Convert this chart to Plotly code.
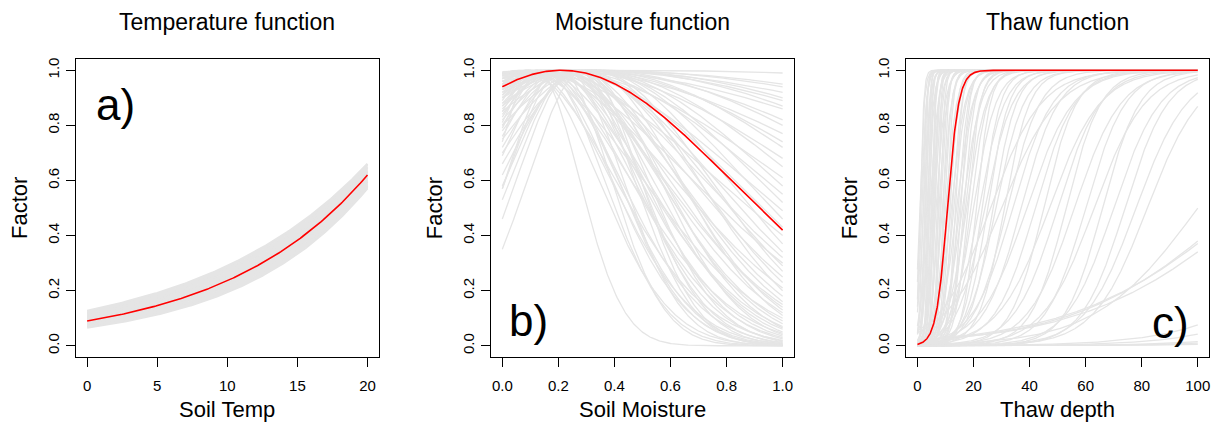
import numpy as np
import plotly.graph_objects as go

# ---------------- data ----------------
# a) Temperature function: exponential curves given by value at 0 and at 20 degC
temp_x_ticks = [0, 5, 10, 15, 20]
temp_red = [0.09, 0.62]
temp_gray_at0 = [0.066, 0.069, 0.072, 0.075, 0.079, 0.082, 0.085, 0.088, 0.091, 0.094,
                 0.098, 0.101, 0.104, 0.107, 0.110, 0.114, 0.117, 0.120, 0.124, 0.127]
temp_gray_at20 = [0.572, 0.576, 0.581, 0.586, 0.590, 0.595, 0.600, 0.604, 0.609, 0.613,
                  0.618, 0.623, 0.627, 0.632, 0.636, 0.641, 0.646, 0.651, 0.656, 0.661]

# b) Moisture function: bell curves (peak = 1) given by value at moisture 0 and at 1
moist_x_ticks = [0.0, 0.2, 0.4, 0.6, 0.8, 1.0]
moist_red = [0.94, 0.42]
moist_gray_at0 = [0.995, 0.99, 0.985, 0.99, 0.97, 0.98, 0.96, 0.99, 0.975, 0.95, 0.985, 0.96, 0.93,
                  0.97, 0.92, 0.98, 0.90, 0.95, 0.88, 0.97, 0.85, 0.93, 0.99, 0.80, 0.90, 0.96, 0.87, 0.75,
                  0.94, 0.82, 0.98, 0.70, 0.90, 0.86, 0.96, 0.78, 0.92, 0.66, 0.99, 0.88, 0.84, 0.95,
                  0.72, 0.90, 0.80, 0.97, 0.62, 0.87, 0.93, 0.76, 0.98, 0.83, 0.58, 0.91, 0.69, 0.95,
                  0.53, 0.85, 0.89, 0.79, 0.46, 0.94, 0.57, 0.74, 0.57, 0.35, 0.81, 0.99, 0.91]
moist_gray_at1 = [0.99, 0.95, 0.94, 0.92, 0.90, 0.89, 0.87, 0.86, 0.82, 0.80, 0.77, 0.74, 0.72,
                  0.68, 0.65, 0.61, 0.58, 0.55, 0.52, 0.49, 0.46, 0.43, 0.40, 0.37, 0.34, 0.32, 0.29, 0.27,
                  0.25, 0.23, 0.21, 0.20, 0.18, 0.16, 0.15, 0.13, 0.12, 0.11, 0.10, 0.09, 0.08, 0.07,
                  0.065, 0.06, 0.05, 0.045, 0.04, 0.035, 0.03, 0.025, 0.02, 0.018, 0.015, 0.012, 0.01, 0.008,
                  0.006, 0.005, 0.004, 0.003, 0.002, 0.0015, 0.001, 1e-7, 1.2e-4, 0.002, 0.0005, 0.3, 0.14]

# c) Thaw function: logistic curves given by midpoint depth and steepness
thaw_x_ticks = [0, 20, 40, 60, 80, 100]
thaw_red = [10.7, 0.495]
thaw_gray_mid = [0.8, 1.0, 1.2, 1.5, 2.0, 2.2, 2.5, 2.8, 3.0, 3.2, 3.5, 3.7, 4.0, 4.2, 4.5, 4.8,
                 5.0, 5.3, 5.5, 5.8, 6.0, 6.3, 6.6, 7.0, 7.3, 7.6, 8.0, 8.4, 8.8, 9.2, 9.6, 10.0, 10.5,
                 11.0, 11.5, 12.0, 12.5, 13.0, 13.5, 14.0, 14.5, 15.0, 15.5, 16.0, 16.5, 17.0, 17.5,
                 18.0, 19.0, 20.0, 21.0, 22.0, 23.0, 24.0, 25.0, 26.0, 27.0, 28.0, 30.0, 31.0, 32.0,
                 34.0, 37.0, 39.0, 42.0, 45.0, 47.0, 50.0, 53.0, 56.0, 60.0, 63.0, 66.0, 70.0, 74.0,
                 78.0, 82.0, 100.0, 114.0, 116.0, 120.0, 150.0, 160.0, 180.0, 200.0, 230.0]
thaw_gray_k = [1.2, 1.6, 1.0, 1.2, 1.5, 0.9, 2.0, 1.1, 1.6, 0.8, 1.3, 2.2, 1.0, 1.7, 0.7, 1.2,
               1.5, 0.9, 2.0, 1.1, 0.8, 1.4, 0.6, 1.0, 1.8, 0.7, 1.2, 0.9, 0.6, 1.1, 0.75, 0.5, 0.9,
               0.5, 0.7, 0.4, 0.6, 0.45, 0.8, 0.35, 0.55, 0.4, 0.65, 0.3, 0.5, 0.38, 0.28,
               0.45, 0.33, 0.25, 0.4, 0.22, 0.3, 0.2, 0.26, 0.11, 0.24, 0.2, 0.1, 0.22, 0.17,
               0.14, 0.15, 0.12, 0.14, 0.17, 0.11, 0.13, 0.16, 0.12, 0.14, 0.11, 0.15, 0.12, 0.13,
               0.11, 0.105, 0.055, 0.035, 0.033, 0.033, 0.05, 0.052, 0.052, 0.046, 0.04]

# ---------------- geometry (page pixels; body margin removed in post_script) ----------------
W, H = 1215, 422
FONT = "Liberation Sans, Arial, Helvetica, sans-serif"
GRAY = "#E5E5E5"
panels_px = [(76, 379), (491.5, 794.5), (907, 1210)]
top_px, bot_px = 57.5, 356.5


def px_x(p):
    return p / W


def px_y(p):
    return (H - p) / H


ydom = [px_y(bot_px), px_y(top_px)]


def join_curves(xs, ys_list):
    X, Y = [], []
    for ys in ys_list:
        X.extend(list(xs) + [None])
        Y.extend(list(ys) + [None])
    return X, Y


def expo(t, v0, v20):
    return v0 * (v20 / v0) ** (t / 20.0)


def bell(m, s0, s1):
    a = np.sqrt(-np.log(s0))
    b = np.sqrt(-np.log(s1))
    w = 1.0 / (a + b)
    opt = a * w
    return np.exp(-((m - opt) / w) ** 2)


def logistic(d, mid, k):
    return 1.0 / (1.0 + np.exp(-k * (d - mid)))


fig = go.Figure()

# panel a
tx = np.linspace(0, 20, 201)
X, Y = join_curves(tx, [expo(tx, a, b) for a, b in zip(temp_gray_at0, temp_gray_at20)])
fig.add_trace(go.Scatter(x=X, y=Y, mode="lines", line=dict(color=GRAY, width=2.2),
                         xaxis="x", yaxis="y", hoverinfo="skip"))
fig.add_trace(go.Scatter(x=tx, y=expo(tx, *temp_red), mode="lines",
                         line=dict(color="red", width=1.6), xaxis="x", yaxis="y"))

# panel b
mx = np.linspace(0, 1, 301)
X, Y = join_curves(mx, [bell(mx, a, b) for a, b in zip(moist_gray_at0, moist_gray_at1)])
fig.add_trace(go.Scatter(x=X, y=Y, mode="lines", line=dict(color=GRAY, width=1.3),
                         xaxis="x2", yaxis="y2", hoverinfo="skip"))
fig.add_trace(go.Scatter(x=mx, y=bell(mx, *moist_red), mode="lines",
                         line=dict(color="red", width=1.6), xaxis="x2", yaxis="y2"))

# panel c
dx = np.linspace(0, 100, 801)
X, Y = join_curves(dx, [logistic(dx, m, k) for m, k in zip(thaw_gray_mid, thaw_gray_k)])
fig.add_trace(go.Scatter(x=X, y=Y, mode="lines", line=dict(color=GRAY, width=1.3),
                         xaxis="x3", yaxis="y3", hoverinfo="skip"))
fig.add_trace(go.Scatter(x=dx, y=logistic(dx, *thaw_red), mode="lines",
                         line=dict(color="red", width=1.6), xaxis="x3", yaxis="y3"))

common = dict(showline=True, linecolor="black", linewidth=1, mirror=True,
              ticks="outside", ticklen=9, tickwidth=1, tickcolor="black",
              showgrid=False, zeroline=False,
              tickfont=dict(family=FONT, size=15, color="black"))

x_specs = [(temp_x_ticks, [str(v) for v in temp_x_ticks], [-0.8, 20.8]),
           (moist_x_ticks, ["%.1f" % v for v in moist_x_ticks], [-0.04, 1.04]),
           (thaw_x_ticks, [str(v) for v in thaw_x_ticks], [-4, 104])]
y_ticks = [0.0, 0.2, 0.4, 0.6, 0.8, 1.0]

layout = dict(width=W, height=H, margin=dict(l=0, r=0, t=0, b=0),
              paper_bgcolor="white", plot_bgcolor="white", showlegend=False)
for i, ((l, r), (tv, tt, rng)) in enumerate(zip(panels_px, x_specs)):
    sfx = "" if i == 0 else str(i + 1)
    layout["xaxis" + sfx] = dict(common, domain=[px_x(l), px_x(r)], range=rng,
                                 tickvals=tv, ticktext=tt, anchor="y" + sfx,
                                 ticklabelstandoff=6)
    layout["yaxis" + sfx] = dict(common, domain=ydom, range=[-0.04, 1.04],
                                 tickvals=y_ticks, ticktext=["%.1f" % v for v in y_ticks],
                                 tickangle=-90, anchor="x" + sfx, ticklabelstandoff=1)
fig.update_layout(**layout)

titles = ["Temperature function", "Moisture function", "Thaw function"]
xlabels = ["Soil Temp", "Soil Moisture", "Thaw depth"]
letters = ["a)", "b)", "c)"]
ann = []
for i, (l, r) in enumerate(panels_px):
    cx = (l + r) / 2
    ann.append(dict(x=px_x(cx), y=px_y(20), xref="paper", yref="paper", text=titles[i],
                    showarrow=False, xanchor="center", yanchor="middle",
                    font=dict(family=FONT, size=23, color="black")))
    ann.append(dict(x=px_x(cx), y=px_y(409), xref="paper", yref="paper", text=xlabels[i],
                    showarrow=False, xanchor="center", yanchor="middle",
                    font=dict(family=FONT, size=22, color="black")))
    ann.append(dict(x=px_x(l - 57), y=px_y((top_px + bot_px) / 2), xref="paper", yref="paper",
                    text="Factor", textangle=-90, showarrow=False,
                    xanchor="center", yanchor="middle",
                    font=dict(family=FONT, size=22, color="black")))
ann.append(dict(x=px_x(94), y=px_y(103), xref="paper", yref="paper", text=letters[0],
                showarrow=False, xanchor="left", yanchor="middle",
                font=dict(family=FONT, size=44, color="black")))
ann.append(dict(x=px_x(507), y=px_y(320.5), xref="paper", yref="paper", text=letters[1],
                showarrow=False, xanchor="left", yanchor="middle",
                font=dict(family=FONT, size=44, color="black")))
ann.append(dict(x=px_x(1192), y=px_y(322), xref="paper", yref="paper", text=letters[2],
                showarrow=False, xanchor="right", yanchor="middle",
                font=dict(family=FONT, size=44, color="black")))
fig.update_layout(annotations=ann)

fig.write_html("out.html",
               config={"displayModeBar": False},
               post_script="document.body.style.margin='0px';"
                           "document.body.style.overflow='hidden';")
